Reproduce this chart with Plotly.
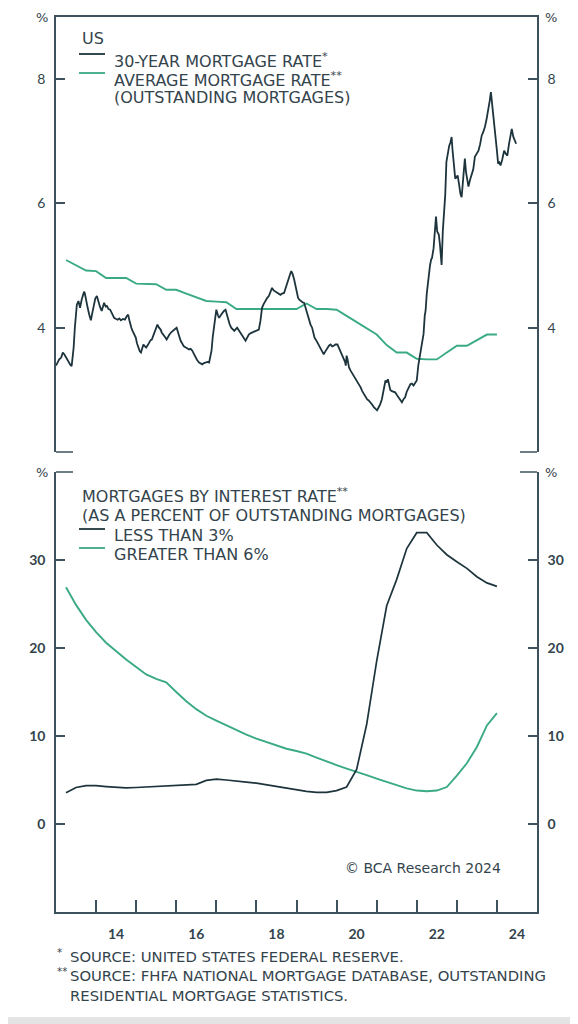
import plotly.graph_objects as go

# ---- data ----
# 30-year mortgage rate (decimal year, %)
rate30_t = [
    2013.00, 2013.04, 2013.08, 2013.13, 2013.17, 2013.21, 2013.25, 2013.29, 2013.33, 2013.36,
    2013.39, 2013.42, 2013.44, 2013.47, 2013.50, 2013.52, 2013.56, 2013.60, 2013.64, 2013.67,
    2013.70, 2013.72, 2013.75, 2013.79, 2013.83, 2013.87, 2013.91, 2013.95, 2013.98, 2014.02,
    2014.06, 2014.10, 2014.14, 2014.17, 2014.20, 2014.24, 2014.27, 2014.31, 2014.35, 2014.39,
    2014.42, 2014.45, 2014.50, 2014.54, 2014.58, 2014.62, 2014.67, 2014.72, 2014.76, 2014.80,
    2014.83, 2014.85, 2014.88, 2014.91, 2014.95, 2014.99, 2015.02, 2015.05, 2015.09, 2015.12,
    2015.15, 2015.18, 2015.22, 2015.25, 2015.29, 2015.32, 2015.36, 2015.39, 2015.43, 2015.46,
    2015.50, 2015.53, 2015.57, 2015.61, 2015.64, 2015.68, 2015.72, 2015.76, 2015.80, 2015.83,
    2015.88, 2015.93, 2015.97, 2016.01, 2016.04, 2016.07, 2016.11, 2016.15, 2016.19, 2016.24,
    2016.28, 2016.32, 2016.36, 2016.40, 2016.44, 2016.48, 2016.52, 2016.57, 2016.61, 2016.65,
    2016.69, 2016.73, 2016.78, 2016.82, 2016.85, 2016.88, 2016.91, 2016.94, 2016.97, 2017.00,
    2017.04, 2017.07, 2017.11, 2017.15, 2017.19, 2017.23, 2017.26, 2017.29, 2017.33, 2017.37,
    2017.41, 2017.45, 2017.49, 2017.52, 2017.56, 2017.60, 2017.64, 2017.69, 2017.73, 2017.77,
    2017.81, 2017.85, 2017.89, 2017.94, 2017.98, 2018.02, 2018.06, 2018.10, 2018.14, 2018.18,
    2018.23, 2018.27, 2018.31, 2018.35, 2018.39, 2018.43, 2018.47, 2018.52, 2018.56, 2018.60,
    2018.64, 2018.69, 2018.72, 2018.75, 2018.78, 2018.81, 2018.84, 2018.87, 2018.90, 2018.94,
    2018.98, 2019.01, 2019.04, 2019.07, 2019.10, 2019.15, 2019.19, 2019.22, 2019.25, 2019.28,
    2019.31, 2019.35, 2019.39, 2019.42, 2019.45, 2019.49, 2019.52, 2019.56, 2019.60, 2019.64,
    2019.68, 2019.72, 2019.77, 2019.81, 2019.85, 2019.89, 2019.93, 2019.97, 2020.02, 2020.06,
    2020.10, 2020.14, 2020.18, 2020.21, 2020.23, 2020.25, 2020.27, 2020.31, 2020.35, 2020.39,
    2020.43, 2020.47, 2020.51, 2020.55, 2020.60, 2020.64, 2020.68, 2020.72, 2020.76, 2020.80,
    2020.85, 2020.89, 2020.93, 2020.97, 2021.01, 2021.05, 2021.09, 2021.13, 2021.16, 2021.19,
    2021.22, 2021.25, 2021.28, 2021.31, 2021.34, 2021.38, 2021.42, 2021.46, 2021.50, 2021.55,
    2021.59, 2021.63, 2021.67, 2021.71, 2021.75, 2021.80, 2021.84, 2021.88, 2021.92, 2021.96,
    2022.00, 2022.04, 2022.08, 2022.13, 2022.17, 2022.20, 2022.22, 2022.25, 2022.29, 2022.33,
    2022.36, 2022.38, 2022.42, 2022.45, 2022.48, 2022.51, 2022.55, 2022.58, 2022.62, 2022.65,
    2022.69, 2022.71, 2022.74, 2022.78, 2022.81, 2022.84, 2022.87, 2022.89, 2022.92, 2022.96,
    2022.99, 2023.02, 2023.06, 2023.09, 2023.12, 2023.16, 2023.20, 2023.23, 2023.27, 2023.29,
    2023.33, 2023.37, 2023.41, 2023.45, 2023.50, 2023.54, 2023.58, 2023.62, 2023.66, 2023.70,
    2023.74, 2023.79, 2023.82, 2023.85, 2023.88, 2023.91, 2023.94, 2023.97, 2024.00, 2024.03,
    2024.06, 2024.09, 2024.13, 2024.18, 2024.22, 2024.26, 2024.30, 2024.34, 2024.37, 2024.41,
    2024.45, 2024.48,
]
rate30 = [
    3.39, 3.45, 3.49, 3.52, 3.60, 3.57, 3.52, 3.47, 3.44, 3.40,
    3.38, 3.52, 3.68, 4.00, 4.30, 4.37, 4.43, 4.32, 4.45, 4.53,
    4.58, 4.55, 4.43, 4.32, 4.21, 4.12, 4.25, 4.37, 4.47, 4.51,
    4.40, 4.33, 4.27, 4.36, 4.40, 4.34, 4.35, 4.30, 4.29, 4.24,
    4.19, 4.16, 4.14, 4.13, 4.15, 4.12, 4.14, 4.13, 4.18, 4.21,
    4.12, 4.05, 4.00, 3.95, 3.90, 3.84, 3.75, 3.68, 3.62, 3.60,
    3.66, 3.73, 3.70, 3.68, 3.72, 3.76, 3.80, 3.81, 3.88, 3.95,
    4.01, 4.05, 4.00, 3.97, 3.92, 3.89, 3.85, 3.81, 3.86, 3.89,
    3.93, 3.95, 3.98, 4.00, 3.92, 3.87, 3.79, 3.73, 3.70, 3.68,
    3.66, 3.65, 3.66, 3.63, 3.58, 3.52, 3.48, 3.44, 3.42, 3.41,
    3.43, 3.44, 3.45, 3.44, 3.52, 3.63, 3.85, 4.00, 4.18, 4.29,
    4.20, 4.16, 4.20, 4.24, 4.27, 4.29, 4.22, 4.13, 4.06, 4.00,
    3.97, 3.95, 3.98, 4.00, 3.96, 3.92, 3.88, 3.84, 3.79, 3.84,
    3.89, 3.91, 3.92, 3.94, 3.95, 3.96, 3.97, 4.11, 4.32, 4.38,
    4.45, 4.48, 4.51, 4.57, 4.64, 4.60, 4.58, 4.56, 4.54, 4.53,
    4.55, 4.56, 4.62, 4.69, 4.75, 4.80, 4.86, 4.91, 4.87, 4.78,
    4.64, 4.55, 4.48, 4.45, 4.43, 4.41, 4.40, 4.33, 4.27, 4.19,
    4.11, 4.05, 4.00, 3.92, 3.84, 3.80, 3.76, 3.72, 3.68, 3.62,
    3.57, 3.62, 3.68, 3.71, 3.73, 3.70, 3.71, 3.73, 3.73, 3.67,
    3.63, 3.57, 3.52, 3.45, 3.39, 3.55, 3.50, 3.36, 3.31, 3.27,
    3.23, 3.19, 3.15, 3.10, 3.04, 2.98, 2.93, 2.89, 2.85, 2.83,
    2.80, 2.76, 2.72, 2.69, 2.67, 2.72, 2.77, 2.85, 2.93, 3.05,
    3.15, 3.12, 3.17, 3.08, 3.00, 2.98, 2.97, 2.96, 2.92, 2.88,
    2.84, 2.80, 2.85, 2.88, 2.97, 3.05, 3.09, 3.10, 3.07, 3.11,
    3.15, 3.40, 3.57, 3.80, 3.90, 4.20, 4.27, 4.55, 4.80, 5.00,
    5.10, 5.12, 5.28, 5.55, 5.79, 5.55, 5.50, 5.33, 5.01, 5.55,
    5.90, 6.13, 6.67, 6.85, 6.93, 6.98, 7.07, 6.88, 6.60, 6.40,
    6.42, 6.45, 6.29, 6.15, 6.10, 6.40, 6.72, 6.50, 6.30, 6.27,
    6.38, 6.45, 6.55, 6.75, 6.80, 6.85, 6.95, 7.09, 7.15, 7.23,
    7.35, 7.52, 7.65, 7.79, 7.62, 7.47, 7.25, 7.04, 6.85, 6.64,
    6.66, 6.61, 6.70, 6.85, 6.80, 6.77, 6.95, 7.10, 7.20, 7.07,
    7.00, 6.96,
]

# quarterly series (FHFA NMDB)
quarters = [
    2013.25, 2013.50, 2013.75, 2014.00, 2014.25, 2014.50, 2014.75, 2015.00, 2015.25, 2015.50,
    2015.75, 2016.00, 2016.25, 2016.50, 2016.75, 2017.00, 2017.25, 2017.50, 2017.75, 2018.00,
    2018.25, 2018.50, 2018.75, 2019.00, 2019.25, 2019.50, 2019.75, 2020.00, 2020.25, 2020.50,
    2020.75, 2021.00, 2021.25, 2021.50, 2021.75, 2022.00, 2022.25, 2022.50, 2022.75, 2023.00,
    2023.25, 2023.50, 2023.75, 2024.00,
]
avg_rate = [
    5.09, 5.00, 4.92, 4.91, 4.80, 4.80, 4.80, 4.71, 4.70, 4.70,
    4.61, 4.61, 4.55, 4.49, 4.43, 4.42, 4.41, 4.30, 4.30, 4.30,
    4.30, 4.30, 4.30, 4.30, 4.39, 4.30, 4.30, 4.29, 4.19, 4.09,
    3.99, 3.89, 3.72, 3.60, 3.60, 3.50, 3.49, 3.49, 3.60, 3.71,
    3.71, 3.80, 3.89, 3.89,
]
less_3 = [
    3.55, 4.15, 4.35, 4.35, 4.25, 4.15, 4.10, 4.15, 4.20, 4.30,
    4.30, 4.35, 4.40, 4.50, 4.95, 5.10, 5.00, 4.85, 4.75, 4.65,
    4.45, 4.30, 4.05, 3.85, 3.70, 3.60, 3.60, 3.80, 4.20, 6.20,
    11.3, 18.5, 24.8, 27.8, 31.3, 33.1, 33.1, 31.7, 30.6, 29.8,
    29.05, 28.1, 27.4, 27.0,
]
greater_6 = [
    26.9, 24.9, 23.2, 21.8, 20.6, 19.6, 18.7, 17.85, 17.0, 16.5,
    16.1, 15.0, 13.95, 13.05, 12.3, 11.75, 11.2, 10.65, 10.15, 9.7,
    9.3, 8.9, 8.55, 8.3, 8.0, 7.55, 7.1, 6.7, 6.3, 5.95,
    5.55, 5.15, 4.8, 4.4, 4.05, 3.8, 3.72, 3.8, 4.2, 5.5,
    6.9, 8.75, 11.2, 12.6,
]

# ticks at each year start, labels every other year (shown mid-year)
year_ticks = [2014, 2015, 2016, 2017, 2018, 2019, 2020, 2021, 2022, 2023, 2024]
year_text = ["14", "", "16", "", "18", "", "20", "", "22", "", "24"]

# ---- styling ----
DARK = "#1d343d"
GREEN = "#3aaa86"
TEXT = "#34444c"
AXIS = "#3d525c"
FONT = "DejaVu Sans"
NUM = "Lato"

# plot box in page pixels; the page adds an 8px body margin
PAGE = 8
L, R, T, B = 56, 537, 17, 912
W, H = R - L, B - T


def px(x):
    return (x - L) / W


def py(y):
    return (B - y) / H


fig = go.Figure()
fig.add_trace(go.Scatter(x=quarters, y=avg_rate, xaxis="x", yaxis="y",
                         mode="lines", line=dict(color=GREEN, width=1.9)))
fig.add_trace(go.Scatter(x=rate30_t, y=rate30, xaxis="x", yaxis="y2",
                         mode="lines", line=dict(color=DARK, width=1.8)))
fig.add_trace(go.Scatter(x=quarters, y=greater_6, xaxis="x2", yaxis="y3",
                         mode="lines", line=dict(color=GREEN, width=1.9)))
fig.add_trace(go.Scatter(x=quarters, y=less_3, xaxis="x2", yaxis="y4",
                         mode="lines", line=dict(color=DARK, width=1.7)))

top_dom = [py(452), 1]
bot_dom = [0, py(472)]

yax = dict(showline=True, linecolor=AXIS, linewidth=1.5, ticks="inside", ticklen=9,
           tickcolor=AXIS, tickwidth=1.5, showgrid=False, zeroline=False,
           tickfont=dict(family=NUM, size=14, color=TEXT), ticklabelstandoff=6)
bold_ticks = dict(family=NUM, size=14, color=TEXT, weight="bold")

fig.update_layout(
    width=578 - PAGE, height=1024 - PAGE,
    margin=dict(l=L - PAGE, r=578 - R, t=T - PAGE, b=1024 - B),
    paper_bgcolor="white", plot_bgcolor="white",
    showlegend=False,
    xaxis=dict(domain=[0, 1], anchor="y", range=[2013, 2025], side="top",
               showline=True, linecolor=AXIS, linewidth=1.5, ticks="",
               showticklabels=False, showgrid=False, zeroline=False),
    xaxis2=dict(domain=[0, 1], anchor="y3", range=[2013, 2025], side="bottom",
                showline=True, linecolor=AXIS, linewidth=1.5,
                tickmode="array", tickvals=year_ticks, ticktext=year_text,
                ticks="inside", ticklen=12, tickcolor=AXIS, tickwidth=1.6,
                tickfont=bold_ticks, ticklabelstandoff=8, ticklabelshift=20,
                showgrid=False, zeroline=False),
    yaxis=dict(yax, domain=top_dom, anchor="x", range=[2, 9], tickvals=[4, 6, 8], side="left"),
    yaxis2=dict(yax, overlaying="y", anchor="x", range=[2, 9], tickvals=[4, 6, 8], side="right"),
    yaxis3=dict(yax, domain=bot_dom, anchor="x2", range=[-10, 40], tickvals=[0, 10, 20, 30],
                side="left", tickfont=bold_ticks),
    yaxis4=dict(yax, overlaying="y3", anchor="x2", range=[-10, 40], tickvals=[0, 10, 20, 30],
                side="right", tickfont=bold_ticks),
)

ann = []


def text(x, y, s, size=16, anchor="left", family=FONT):
    ann.append(dict(x=px(x), y=py(y), xref="paper", yref="paper", text=s, showarrow=False,
                    xanchor=anchor, yanchor="middle",
                    font=dict(family=family, size=size, color=TEXT)))


# % unit labels
for yy in (T, 472):
    text(42, yy, "%", size=13, anchor="center")
    text(551, yy, "%", size=13, anchor="center")

# top legend
text(80, 39, "US")
text(112, 60, "30-YEAR MORTGAGE RATE<sup>*</sup>")
text(112, 79, "AVERAGE MORTGAGE RATE<sup>**</sup>")
text(112, 98, "(OUTSTANDING MORTGAGES)")

# bottom legend
text(80, 495, "MORTGAGES BY INTEREST RATE<sup>**</sup>")
text(80, 515, "(AS A PERCENT OF OUTSTANDING MORTGAGES)")
text(112, 535, "LESS THAN 3%")
text(112, 555, "GREATER THAN 6%")

text(423, 868, "© BCA Research 2024", size=14, anchor="center")

# footnotes
text(55, 952, "<sup>*</sup>", size=14.8)
text(68, 956, "SOURCE: UNITED STATES FEDERAL RESERVE.", size=14.8)
text(55, 971, "<sup>**</sup>", size=14.8)
text(68, 975, "SOURCE: FHFA NATIONAL MORTGAGE DATABASE, OUTSTANDING", size=14.8)
text(68, 996, "RESIDENTIAL MORTGAGE STATISTICS.", size=14.8)

shapes = []


def hline(x0, x1, y, color, width=1.5):
    shapes.append(dict(type="line", xref="paper", yref="paper", x0=px(x0), x1=px(x1),
                       y0=py(y), y1=py(y), line=dict(color=color, width=width)))


# legend samples
hline(79, 105, 54, DARK, 1.8)
hline(79, 105, 73, GREEN, 1.8)
hline(79, 105, 529, DARK, 1.8)
hline(79, 105, 548, GREEN, 1.8)

# panel corner marks
for yy in (452, 472):
    hline(L, L + 17, yy, AXIS)
    hline(R - 17, R, yy, AXIS)

# grey strip at the page bottom
shapes.append(dict(type="rect", xref="paper", yref="paper", x0=px(PAGE), x1=px(578),
                   y0=py(1017), y1=py(1024), fillcolor="#e4e4e4", line=dict(width=0),
                   layer="below"))

fig.update_layout(annotations=ann, shapes=shapes)

fig.write_html("out.html")
